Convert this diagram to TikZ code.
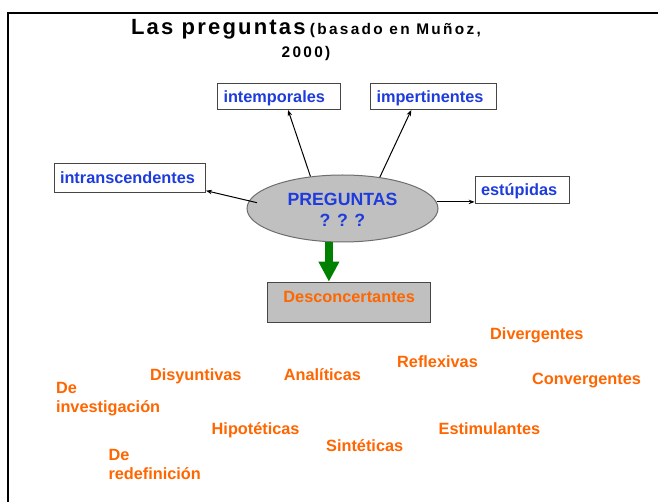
\documentclass[tikz,border=0pt]{standalone}
\usepackage{fontspec}
\setmainfont{Liberation Sans}
\newfontfamily\titleA[LetterSpace=10]{Liberation Sans}
\newfontfamily\titleB[LetterSpace=15]{Liberation Sans}
\usetikzlibrary{arrows.meta,shapes.geometric,calc}
\definecolor{qblue}{RGB}{30,60,220}
\definecolor{qorange}{RGB}{255,102,0}
\definecolor{qgreen}{RGB}{0,128,0}
\definecolor{qgray}{RGB}{192,192,192}
\definecolor{qline}{RGB}{70,70,70}
\definecolor{qell}{RGB}{110,110,110}
\begin{document}
\begin{tikzpicture}[x=1pt,y=-1pt,
  lbox/.style={draw=qline, line width=1pt, fill=white, anchor=north west,
    inner xsep=6pt, inner ysep=0pt, align=left, text=qblue,
    font=\fontsize{16.3}{19}\selectfont\bfseries},
  otext/.style={anchor=base west, inner sep=0pt, align=left, text=qorange,
    font=\fontsize{16.3}{19}\selectfont\bfseries},
  conn/.style={draw=black, line width=1pt, -{Stealth[length=6pt,width=4.5pt]}},
  greenarrow/.style={draw=qgreen, line width=7.5pt, -{Triangle[length=20pt,width=19.5pt]}},
]
\useasboundingbox (0,0) rectangle (658,502);
\clip (0,0) rectangle (658,502);
\fill[white] (0,0) rectangle (658,502);
% frame
\draw[line width=2pt, line join=miter] (670,13.5) -- (8.2,13.5) -- (8.2,520);

% title (anchor at the baseline of its last line)
\node[anchor=base, align=center, inner sep=0pt,
  font=\fontsize{15.4}{22.3}\selectfont\bfseries] (title) at (306,57.3)
  {{\titleA\fontsize{22}{22.3}\selectfont Las preguntas} {\titleB (basado en Muñoz,}\\{\titleB 2000)}};

% boxes
\node[lbox, text width=111pt, text height=19pt, text depth=7.3pt] (intemp) at (217,82.7) {intemporales};
\node[lbox, text width=114pt, text height=19pt, text depth=7.3pt] (imper) at (370,82.7) {impertinentes};
\node[lbox, text width=139.5pt, text height=20pt, text depth=9pt] (intr) at (53.5,162.7) {intranscendentes};
\node[lbox, text width=82.4pt, text height=19pt, text depth=7.7pt] (est) at (474.6,176) {estúpidas};

% central ellipse
\node[ellipse, draw=qell, line width=1pt, fill=qgray, minimum width=191pt, minimum height=67pt,
  inner sep=0pt, align=center, text=qblue, text height=37pt, text depth=0pt,
  font=\fontsize{17.7}{21}\selectfont\bfseries] (q) at (342.5,208.5)
  {PREGUNTAS\\? ? ?};

% desconcertantes
\node[lbox, fill=qgray, text=qorange, align=center, text width=150.7pt,
  text height=20pt, text depth=20.6pt] (desc) at (267.3,281.7) {Desconcertantes};

% connectors
\draw[conn] (q.135) -- ($(intemp.south west)!0.573!(intemp.south east)$);
\draw[conn] (q.40) -- ($(imper.south west)!0.325!(imper.south east)$);
\draw[conn] ($(q.center)+(-85.5,-5.8)$) -- ($(intr.south east)+(0,-2)$);
\draw[conn] (q.4) -- (q.4 -| est.west);
\draw[greenarrow] (q.248) -- (q.248 |- desc.north);

% orange labels
\node[otext] (divg) at (490,339) {Divergentes};
\node[otext] (refl) at (397,367.7) {Reflexivas};
\node[otext] (disy) at (149.8,380) {Disyuntivas};
\node[otext] (anal) at (283.7,380) {Analíticas};
\node[otext] (conv) at (532,384) {Convergentes};
\node[otext] (inv) at (55.8,412.7) {De\\investigación};
\node[otext] (hipo) at (211.5,434) {Hipotéticas};
\node[otext] (estim) at (438.5,434) {Estimulantes};
\node[otext] (sint) at (326,451) {Sintéticas};
\node[otext] (redef) at (108.3,479.3) {De\\redefinición};
\end{tikzpicture}
\end{document}
